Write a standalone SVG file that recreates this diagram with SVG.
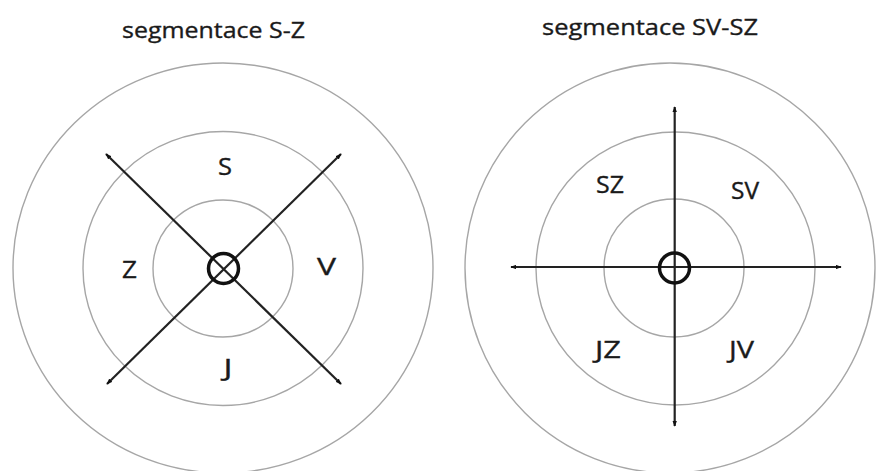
<svg xmlns="http://www.w3.org/2000/svg" width="876" height="471" viewBox="0 0 876 471">
<style>
.ring{fill:none;stroke:#a6a6a6;stroke-width:1.4}
.ax{stroke:#222;stroke-width:2.2;fill:none;marker-start:url(#tip);marker-end:url(#tip)}
.hub{fill:none;stroke:#111;stroke-width:3.5}
.t{font-family:"Open Sans","Liberation Sans",sans-serif;fill:#1a1a1a;stroke:#1a1a1a;stroke-width:0.35}
.lbl{font-size:23px;text-anchor:middle}
.ttl{font-size:22px}
</style>
<defs>
<marker id="tip" viewBox="0 0 8 6" refX="7" refY="3" markerWidth="2.8" markerHeight="2.2" orient="auto-start-reverse" markerUnits="strokeWidth">
<path d="M0,0 L8,3 L0,6 Z" fill="#111"/>
</marker>
</defs>
<rect width="876" height="471" fill="#fff"/>
<g id="left">
<text class="t ttl" x="122" y="38" textLength="183" lengthAdjust="spacingAndGlyphs">segmentace S-Z</text>
<ellipse class="ring" cx="223" cy="268" rx="210" ry="205"/>
<ellipse class="ring" cx="223" cy="268.5" rx="140" ry="137"/>
<ellipse class="ring" cx="223" cy="268.5" rx="70" ry="68.5"/>
</g>
<g id="right">
<text class="t ttl" x="542" y="35" textLength="216" lengthAdjust="spacingAndGlyphs">segmentace SV-SZ</text>
<ellipse class="ring" cx="670" cy="268" rx="205" ry="205"/>
<ellipse class="ring" cx="675.5" cy="268.5" rx="139.5" ry="136.5"/>
<ellipse class="ring" cx="674" cy="268" rx="70" ry="69"/>
</g>
<g id="connectors">
<line class="ax" x1="106" y1="154" x2="341" y2="384"/>
<line class="ax" x1="341" y1="154" x2="107" y2="384"/>
<line class="ax" x1="674.7" y1="107" x2="674.7" y2="426"/>
<line class="ax" x1="511" y1="267" x2="841" y2="267"/>
</g>
<g id="hub-left"><circle class="hub" cx="223.5" cy="268.5" r="15"/></g>
<g id="hub-right"><circle class="hub" cx="674.5" cy="268" r="15"/></g>
<g id="label-S"><text class="t lbl" x="225" y="175" textLength="14" lengthAdjust="spacingAndGlyphs">S</text></g>
<g id="label-Z"><text class="t lbl" x="129.5" y="278" textLength="15" lengthAdjust="spacingAndGlyphs">Z</text></g>
<g id="label-V"><text class="t lbl" x="326.5" y="275" textLength="19" lengthAdjust="spacingAndGlyphs">V</text></g>
<g id="label-J"><text class="t lbl" x="228" y="376" textLength="9" lengthAdjust="spacingAndGlyphs">J</text></g>
<g id="label-SZ"><text class="t lbl" x="610" y="193" textLength="28" lengthAdjust="spacingAndGlyphs">SZ</text></g>
<g id="label-SV"><text class="t lbl" x="745" y="199" textLength="28" lengthAdjust="spacingAndGlyphs">SV</text></g>
<g id="label-JZ"><text class="t lbl" x="608" y="358" textLength="26" lengthAdjust="spacingAndGlyphs">JZ</text></g>
<g id="label-JV"><text class="t lbl" x="741.5" y="358" textLength="25" lengthAdjust="spacingAndGlyphs">JV</text></g>
</svg>
